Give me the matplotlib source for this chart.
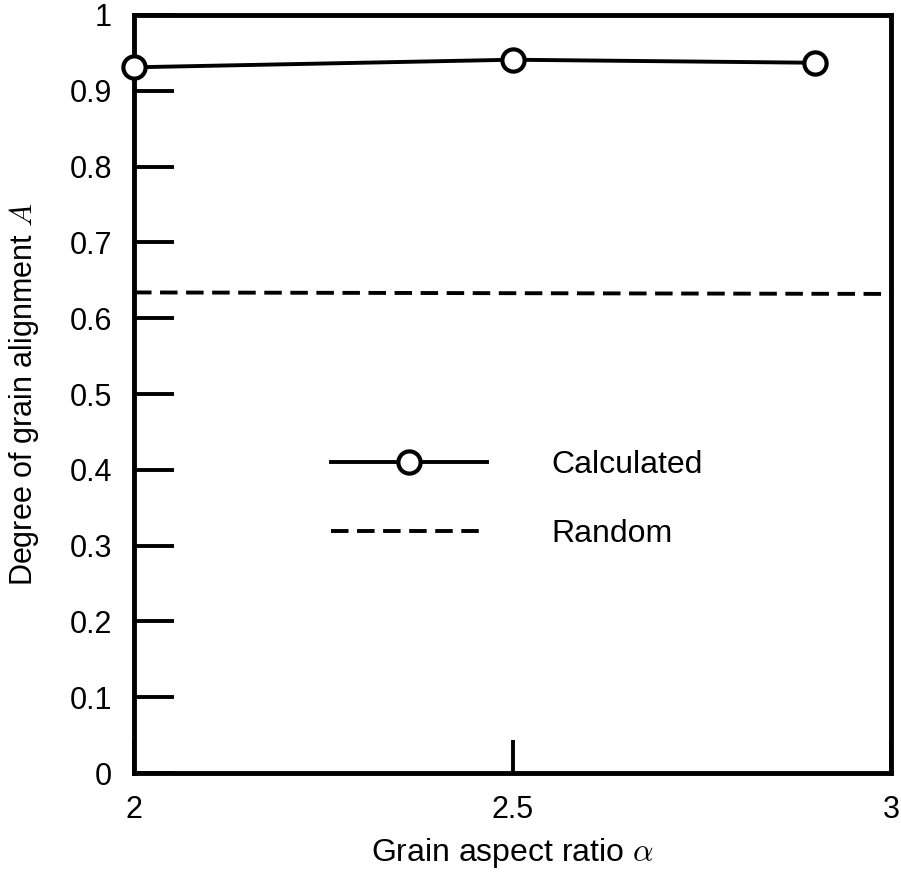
import matplotlib
matplotlib.use("Agg")
import matplotlib.pyplot as plt
from matplotlib.ticker import FixedLocator, FixedFormatter

plt.rcParams['font.family'] = ['Liberation Sans', 'DejaVu Sans']
plt.rcParams['mathtext.fontset'] = 'cm'

# Data
aspect_ratio = [2.0, 2.5, 2.9]
alignment_calc = [0.931, 0.941, 0.937]
random_level = [0.634, 0.632]
random_x = [2.0, 3.0]

x_ticks = [2, 2.5, 3]
x_tick_labels = ["2", "2.5", "3"]
y_ticks = [0, 0.1, 0.2, 0.3, 0.4, 0.5, 0.6, 0.7, 0.8, 0.9, 1.0]
y_tick_labels = ["0", "0.1", "0.2", "0.3", "0.4", "0.5", "0.6", "0.7", "0.8", "0.9", "1"]

fig = plt.figure(figsize=(9.01, 8.72), dpi=100)
ax = fig.add_axes([134/901, 1 - 773/872, (891-134)/901, (773-15)/872])

ax.plot(aspect_ratio, alignment_calc, color='black', lw=2.8, marker='o',
        markersize=16, markerfacecolor='white', markeredgecolor='black',
        markeredgewidth=3, label='Calculated', clip_on=False, zorder=3)
ax.plot(random_x, random_level, color='black', lw=2.8, dashes=(4.5, 2.2),
        label='Random', clip_on=False)

ax.set_xlim(2, 3)
ax.set_ylim(0, 1)
ax.xaxis.set_major_locator(FixedLocator(x_ticks))
ax.xaxis.set_major_formatter(FixedFormatter(x_tick_labels))
ax.yaxis.set_major_locator(FixedLocator(y_ticks))
ax.yaxis.set_major_formatter(FixedFormatter(y_tick_labels))

for s in ax.spines.values():
    s.set_linewidth(3.5)

ax.tick_params(axis='y', direction='in', length=29, width=2.8, labelsize=22, pad=16)
ax.tick_params(axis='x', direction='in', length=24, width=2.8, labelsize=22, pad=16)

ax.set_xlabel(r"Grain aspect ratio $\alpha$", fontsize=23, labelpad=8)
ax.set_ylabel(r"Degree of grain alignment $A$", fontsize=22, labelpad=20)

leg = ax.legend(loc='upper left', bbox_to_anchor=(0.26, 0.426), frameon=False,
                fontsize=23, handlelength=4.9, handletextpad=2.0,
                labelspacing=1.23, borderpad=0, borderaxespad=0)

fig.savefig("out.png", dpi=100)
